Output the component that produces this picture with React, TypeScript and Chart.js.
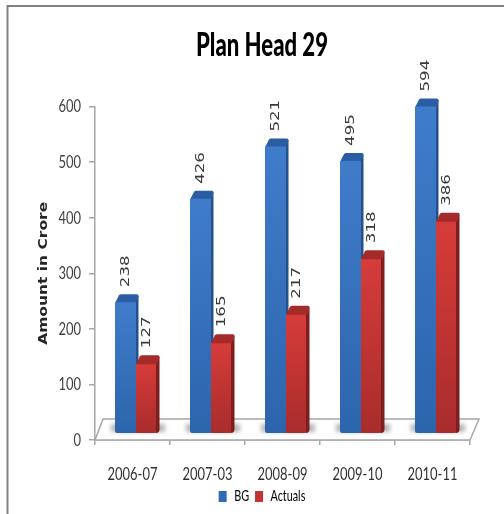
import React, { useEffect, useRef } from "react";
import { Chart, registerables } from "chart.js";

Chart.register(...registerables);

const categories = ["2006-07", "2007-03", "2008-09", "2009-10", "2010-11"];
const bgValues = [238, 426, 521, 495, 594];
const actualValues = [127, 165, 217, 318, 386];
const valueTicks = [0, 100, 200, 300, 400, 500, 600];

const CONDENSED = "Lato, sans-serif";
const WIDE = "'DejaVu Sans', sans-serif";
const DEPTH_X = 4;
const DEPTH_Y = 8;
const SHIFT_X = 3.5;

const palette = [
  { top: "#3f7cca", bottom: "#2d65ad", side: "#25508a", cap: "#2a5da3", solid: "#2f6ab4" },
  { top: "#d63c3a", bottom: "#a92c2c", side: "#7d1f1f", cap: "#a52a2a", solid: "#c23331" },
];

// Horizontal text stretch for each face: Lato is drawn condensed, DejaVu extended.
function stretchFor(font: string) {
  const bold = /bold|[789]00/.test(font);
  if (font.includes("Lato")) return bold ? 0.67 : 0.72;
  if (font.includes("DejaVu")) return bold ? 1.19 : 1.28;
  return 1;
}

function applyTextStretch(c: any) {
  const fill = c.fillText.bind(c);
  const measure = c.measureText.bind(c);
  c.fillText = (text: string, x: number, y: number) => {
    c.save();
    c.translate(x, y);
    c.scale(stretchFor(c.font), 1);
    fill(text, 0, 0);
    c.restore();
  };
  c.measureText = (text: string) => {
    const m = measure(text);
    return { width: m.width * stretchFor(c.font), actualBoundingBoxAscent: m.actualBoundingBoxAscent, actualBoundingBoxDescent: m.actualBoundingBoxDescent };
  };
}

function faceGradient(ctx: any) {
  const p = palette[ctx.datasetIndex];
  const scale = ctx.chart.scales.depth;
  if (!scale || typeof ctx.raw !== "number") return p.solid;
  const g = ctx.chart.ctx.createLinearGradient(0, scale.getPixelForValue(ctx.raw), 0, scale.getPixelForValue(0));
  g.addColorStop(0, p.top);
  g.addColorStop(1, p.bottom);
  return g;
}

// Side wall and top cap that give each bar its extruded look.
function drawDepth(c: CanvasRenderingContext2D, bar: any, p: any) {
  const half = bar.width / 2;
  const l = bar.x - half;
  const r = bar.x + half;
  const t = bar.y;
  const b = bar.base;
  c.fillStyle = p.side;
  c.beginPath();
  c.moveTo(r - 1, t);
  c.lineTo(r + 2.5, t - DEPTH_Y + 1);
  c.lineTo(r + 2.5, b - 3);
  c.quadraticCurveTo(r + 2, b, r - 1, b);
  c.closePath();
  c.fill();
  c.fillStyle = p.cap;
  c.beginPath();
  c.moveTo(l, t + 1);
  c.lineTo(l + DEPTH_X, t - DEPTH_Y + 1);
  c.quadraticCurveTo(l + DEPTH_X + 1, t - DEPTH_Y, l + DEPTH_X + 2, t - DEPTH_Y);
  c.lineTo(r + 1, t - DEPTH_Y);
  c.quadraticCurveTo(r + 2.5, t - DEPTH_Y, r + 2.5, t - DEPTH_Y + 2);
  c.lineTo(r, t + 1);
  c.closePath();
  c.fill();
}

const scenePlugin = {
  id: "scene",
  beforeDraw(chart: any) {
    const c = chart.ctx;
    c.save();
    c.fillStyle = "#ffffff";
    c.fillRect(0, 0, chart.width, chart.height);
    // Outer frame: top and left rules only.
    c.strokeStyle = "#808080";
    c.lineWidth = 2;
    c.beginPath();
    c.moveTo(7.5, chart.height);
    c.lineTo(7.5, 6);
    c.lineTo(chart.width, 6);
    c.stroke();
    c.restore();
  },
  beforeDatasetsDraw(chart: any) {
    const c = chart.ctx;
    const { left, right, bottom } = chart.chartArea;
    // Floor slab.
    c.save();
    c.fillStyle = "#ffffff";
    c.strokeStyle = "#a6a6a6";
    c.lineWidth = 1.5;
    c.beginPath();
    c.moveTo(left, bottom);
    c.lineTo(left + 8, bottom - 21);
    c.lineTo(right + 9, bottom - 21);
    c.lineTo(right, bottom);
    c.closePath();
    c.fill();
    c.stroke();
    // Soft shadows on the floor.
    const bg = chart.getDatasetMeta(0).data;
    const act = chart.getDatasetMeta(1).data;
    c.filter = "blur(2px)";
    c.fillStyle = "rgba(120,120,120,0.55)";
    act.forEach((bar: any, i: number) => {
      const x0 = bg[i].x - bg[i].width / 2 + SHIFT_X - 4;
      const x1 = bar.x + bar.width / 2 + SHIFT_X + 8;
      c.fillRect(x0, bar.base - 9, x1 - x0, 8);
    });
    c.filter = "none";
    c.restore();

    c.save();
    c.translate(SHIFT_X, 0);
    bg.forEach((bar: any) => drawDepth(c, bar, palette[0]));
  },
  afterDatasetsDraw(chart: any) {
    const c = chart.ctx;
    chart.getDatasetMeta(1).data.forEach((bar: any) => drawDepth(c, bar, palette[1]));
    // Value labels, rotated above each bar.
    c.fillStyle = "#3a3a3a";
    c.font = `13px ${WIDE}`;
    c.textAlign = "left";
    c.textBaseline = "middle";
    chart.data.datasets.forEach((ds: any, di: number) => {
      chart.getDatasetMeta(di).data.forEach((bar: any, i: number) => {
        c.save();
        c.translate(bar.x, bar.y - DEPTH_Y - 7);
        c.rotate(-Math.PI / 2);
        c.fillText(String(ds.data[i]), 0, 0);
        c.restore();
      });
    });
    c.restore();
  },
};

export default function App() {
  const ref = useRef<HTMLCanvasElement>(null);
  useEffect(() => {
    if (!ref.current) return;
    applyTextStretch(ref.current.getContext("2d"));
    const chart = new Chart(ref.current, {
      type: "bar",
      data: {
        labels: categories,
        datasets: [
          { label: "BG", data: bgValues, yAxisID: "depth", backgroundColor: faceGradient, clip: false as any, borderRadius: { bottomLeft: 2 } as any, borderSkipped: false as any },
          { label: "Actuals", data: actualValues, yAxisID: "depth", backgroundColor: faceGradient, clip: false as any, borderRadius: { bottomRight: 2 } as any, borderSkipped: false as any },
        ],
      },
      options: {
        responsive: false,
        animation: false,
        events: [],
        categoryPercentage: 0.56,
        barPercentage: 1,
        layout: { padding: { left: 20, right: 0, top: 0, bottom: 0 } },
        plugins: {
          tooltip: { enabled: false },
          title: {
            display: true,
            text: "Plan Head 29",
            color: "#000000",
            font: { family: CONDENSED, size: 33, weight: "900" },
            padding: { top: 26, bottom: 41 },
          },
          legend: {
            display: true,
            position: "bottom",
            labels: {
              boxWidth: 8,
              boxHeight: 11,
              padding: 6,
              color: "#333333",
              font: { family: CONDENSED, size: 15 },
              generateLabels: () =>
                [
                  { text: "BG", fillStyle: palette[0].solid, strokeStyle: palette[0].solid, lineWidth: 0, datasetIndex: 0 },
                  { text: "Actuals", fillStyle: palette[1].solid, strokeStyle: palette[1].solid, lineWidth: 0, datasetIndex: 1 },
                ] as any,
            },
          },
        },
        scales: {
          x: {
            grid: { drawOnChartArea: false, tickLength: 5, color: "#a6a6a6", lineWidth: 1.5 },
            border: { color: "#a6a6a6", width: 1.5 },
            ticks: { color: "#303030", padding: 18, font: { family: CONDENSED, size: 18 }, maxRotation: 0 },
            afterFit: (s: any) => { s.height = 43; },
          },
          y: {
            position: "left",
            min: 0,
            max: 600,
            grid: { drawOnChartArea: false, tickLength: 6, color: "#a6a6a6", lineWidth: 1.5 },
            border: { color: "#a6a6a6", width: 1.5 },
            afterBuildTicks: (s: any) => { s.ticks = valueTicks.map((value) => ({ value })); },
            ticks: { color: "#404040", padding: 8, font: { family: CONDENSED, size: 18 } },
            title: {
              display: true,
              text: "Amount in Crore",
              color: "#262626",
              font: { family: WIDE, size: 13, weight: "bold" },
              padding: { top: 16, bottom: 0 },
            },
            afterFit: (s: any) => { s.width = 75; },
          },
          depth: {
            position: "right",
            min: -12.8,
            max: 593.8,
            grid: { display: false },
            border: { display: false },
            ticks: { display: false },
            afterFit: (s: any) => { s.width = 34; },
          },
        },
      },
      plugins: [scenePlugin],
    } as any);
    return () => chart.destroy();
  }, []);
  return (
    <div style={{ position: "absolute", left: 0, top: 0 }}>
      <canvas ref={ref} width={504} height={514} style={{ display: "block" }} />
    </div>
  );
}
